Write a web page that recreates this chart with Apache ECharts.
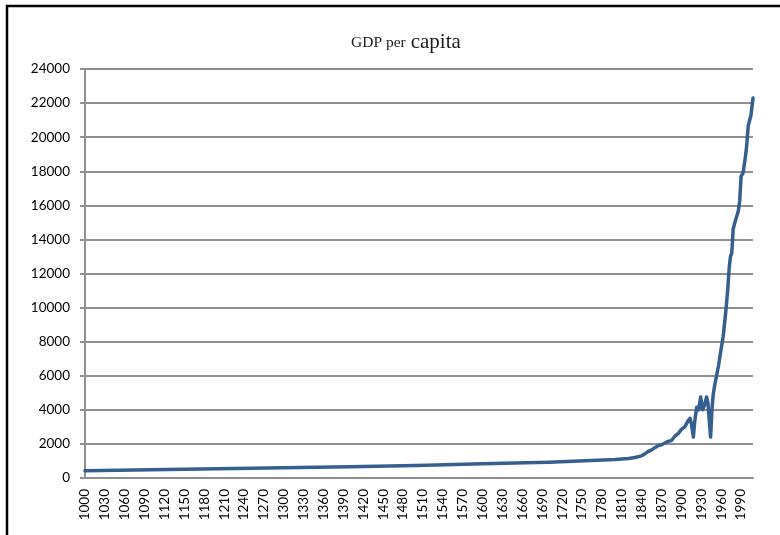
<!DOCTYPE html>
<html>
<head>
<meta charset="utf-8">
<script src="https://cdn.jsdelivr.net/npm/echarts@6/dist/echarts.min.js"></script>
<style>html,body{margin:0;padding:0;background:#fff}#c{width:780px;height:535px}</style>
</head>
<body>
<div id="c"></div>
<script>
const years = [1000, 1200, 1400, 1500, 1600, 1700, 1800, 1820, 1830, 1840, 1845, 1850, 1855, 1860, 1865, 1870, 1875, 1880, 1885, 1890, 1895, 1900, 1905, 1910, 1913, 1915, 1918, 1920, 1923, 1926, 1929, 1932, 1935, 1938, 1940, 1942, 1944, 1946, 1948, 1950, 1953, 1956, 1960, 1963, 1967, 1970, 1972, 1974, 1976, 1978, 1980, 1983, 1986, 1988, 1990, 1993, 1996, 1998, 2000, 2001, 2003, 2005, 2008];
const gdp   = [420, 540, 660, 740, 830, 920, 1080, 1150, 1200, 1300, 1420, 1560, 1650, 1780, 1900, 1950, 2050, 2150, 2200, 2450, 2600, 2850, 3000, 3350, 3500, 3200, 2400, 3300, 4150, 4000, 4750, 4000, 4300, 4750, 4400, 3400, 2400, 4000, 4900, 5400, 6000, 6600, 7600, 8300, 9800, 11100, 12300, 13000, 13200, 14600, 14900, 15300, 15700, 16300, 17700, 17900, 18700, 19300, 20300, 20700, 20800, 21300, 22300];
const yTicks = [0, 2000, 4000, 6000, 8000, 10000, 12000, 14000, 16000, 18000, 20000, 22000, 24000];
const xTickYears = [];
for (let y = 1000; y <= 1990; y += 30) xTickYears.push(y);

const chart = echarts.init(document.getElementById('c'), null, {renderer: 'canvas'});
const gridColor = '#8f8f8f';
chart.setOption({
  animation: false,
  backgroundColor: '#ffffff',
  title: {
    text: '{a|GDP per} {b|capita}',
    left: 346,
    top: 27,
    textStyle: {
      fontWeight: 'normal',
      rich: {
        a: {fontFamily: 'Liberation Serif', fontSize: 15.5, fontWeight: 'normal', color: '#1a1a1a'},
        b: {fontFamily: 'Liberation Serif', fontSize: 21, fontWeight: 'normal', color: '#1a1a1a'}
      }
    }
  },
  grid: {left: 85, right: 27, top: 69, bottom: 57, containLabel: false},
  xAxis: {
    type: 'value',
    min: 1000,
    max: 2008,
    axisLine: {show: true, lineStyle: {color: gridColor, width: 2}},
    axisTick: {show: false},
    splitLine: {show: false},
    axisLabel: {
      customValues: xTickYears,
      rotate: 90,
      margin: 11,
      fontFamily: 'Lato',
      fontSize: 13.5,
      color: '#000',
      formatter: v => String(v)
    }
  },
  yAxis: {
    type: 'value',
    min: 0,
    max: 24000,
    interval: 2000,
    axisLine: {show: true, lineStyle: {color: gridColor, width: 2}},
    axisTick: {show: true, length: 5, lineStyle: {color: gridColor, width: 2}},
    splitLine: {show: true, lineStyle: {color: gridColor, width: 2}},
    axisLabel: {
      margin: 15,
      fontFamily: 'Lato',
      fontSize: 13.5,
      color: '#000',
      customValues: yTicks,
      formatter: v => String(v)
    }
  },
  series: [{
    type: 'line',
    data: years.map((y, i) => [y, gdp[i]]),
    showSymbol: false,
    symbol: 'none',
    lineStyle: {color: '#355f91', width: 3.5, cap: 'round', join: 'round'},
    z: 3
  }],
  graphic: [{
    type: 'rect',
    shape: {x: 7, y: 6, width: 820, height: 600},
    style: {fill: 'none', stroke: '#000', lineWidth: 2.5},
    silent: true,
    z: 100
  }]
});
</script>
</body>
</html>
